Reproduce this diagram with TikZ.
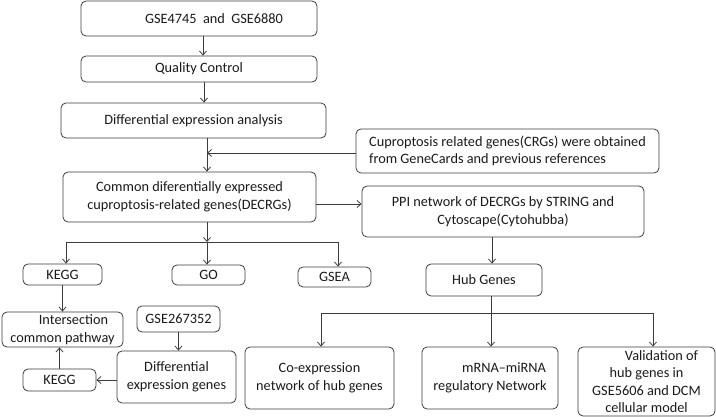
\documentclass[tikz,border=0pt]{standalone}
\usepackage{fontspec}
\setmainfont{Carlito}
\usetikzlibrary{arrows.meta}
\definecolor{ln}{HTML}{3C3C3C}
\definecolor{txt}{HTML}{1A1A1A}
\begin{document}
\begin{tikzpicture}[x=1pt,y=-1pt,
  box/.style={draw=ln, line width=0.8pt, rounded corners=5pt, align=center,
    inner sep=0pt, text=txt, font=\fontsize{14.3}{17.5}\selectfont},
  sz/.style 2 args={minimum width=#1pt, minimum height=#2pt},
  arr/.style={draw=ln, line width=0.8pt, -{Straight Barb[length=4pt,width=7pt]}},
  wire/.style={draw=ln, line width=0.8pt}]
\useasboundingbox (0,0) rectangle (716,417);

% main column
\node[box, sz={236}{35}] (b1) at (199,18.5) {\hspace*{30pt}GSE4745\ \ and\ \ GSE6880};
\node[box, sz={236}{26}] (b2) at (199,69) {Quality Control};
\node[box, sz={265}{35}] (b3) at (193.5,120.5) {Differential expression analysis};
\node[box, sz={303}{44}, align=left] (crg) at (507.5,151)
  {Cuproptosis related genes(CRGs) were obtained\\from GeneCards and previous references};
\node[box, sz={253}{50}] (b4) at (189.5,197)
  {Common diferentially expressed\\cuproptosis-related genes(DECRGs)};
\node[box, sz={282}{51}] (ppi) at (503,211.5)
  {PPI network of DECRGs by STRING and\\Cytoscape(Cytohubba)};

% enrichment row
\node[box, sz={79}{21}] (kegg1) at (62.5,274.5) {KEGG};
\node[box, sz={73}{20}] (go) at (208.5,275) {GO};
\node[box, sz={73}{20}] (gsea) at (334.5,277) {GSEA};
\node[box, sz={116}{32}] (hub) at (484,280) {Hub Genes};

% lower left
\node[box, sz={121}{35}] (inter) at (62.5,329.5) {\hspace*{22pt}Intersection\\common pathway};
\node[box, sz={83}{26}] (gse2) at (178.5,319) {GSE267352};
\node[box, sz={119}{52}] (deg) at (176.5,377) {Differential\\expression genes};
\node[box, sz={73}{22}] (kegg2) at (59.5,380) {KEGG};

% hub gene analyses
\node[box, sz={149}{62}] (coexp) at (319.5,378) {Co-expression\\network of hub genes};
\node[box, sz={136}{62}] (mrna) at (490,378) {\hspace*{28pt}mRNA--miRNA\\regulatory Network};
\node[box, sz={137}{69}] (valid) at (646.5,381.5)
  {\hspace*{30pt}Validation of\\hub genes in\hspace*{12pt}\\GSE5606 and DCM\\cellular model};

% connectors of the main column
\draw[arr] ([xshift=4pt]b1.south) -- ([xshift=4pt]b1.south |- b2.north);
\draw[arr] ([xshift=5pt]b2.south) -- ([xshift=5pt]b2.south |- b3.north);
\coordinate (sp) at (207,138);
\draw[arr] (sp) -- (sp |- b4.north);
\draw[arr] ([yshift=-2pt]crg.west) -- ([yshift=-2pt]crg.west -| sp);
\draw[arr] ([yshift=-7pt]b4.east) -- ([yshift=-7pt]b4.east -| ppi.west);

% branches below the common genes
\coordinate (br) at (207,242);
\coordinate (brL) at (66,242);
\coordinate (brR) at (338,242);
\draw[arr] (b4.south -| br) -- (br);
\draw[wire] (brL) -- (brR);
\draw[arr] (brL) -- (brL |- kegg1.north);
\draw[arr] (br) -- (br |- go.north);
\draw[arr] (brR) -- (brR |- gsea.north);

% pathway intersection
\draw[arr] (kegg1.south) -- (kegg1.south |- inter.north);
\draw[arr] (gse2.south) -- (gse2.south |- deg.north);
\draw[arr] (deg.west |- kegg2.east) -- (kegg2.east);
\draw[arr] (kegg2.north) -- (kegg2.north |- inter.south);

% hub genes and downstream analyses
\coordinate (hp) at (492,237);
\draw[arr] (hp) -- (hp |- hub.north);
\coordinate (hj) at (491,313);
\coordinate (hjL) at (321,313);
\coordinate (hjR) at (653,313);
\draw[wire] (hjL) -- (hjR);
\draw[arr] (hub.south -| hj) -- (hj |- mrna.north);
\draw[arr] (hjL) -- (hjL |- coexp.north);
\draw[arr] (hjR) -- (hjR |- valid.north);
\end{tikzpicture}
\end{document}
